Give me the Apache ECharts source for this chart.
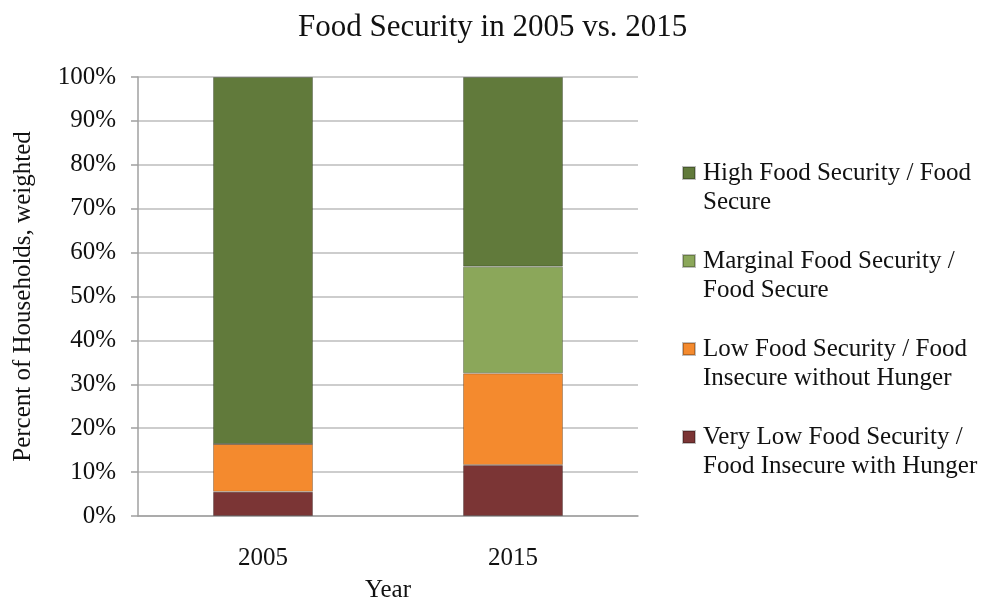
<!DOCTYPE html>
<html>
<head>
<meta charset="utf-8">
<script src="https://cdn.jsdelivr.net/npm/echarts@6/dist/echarts.min.js"></script>
<style>
html,body{margin:0;padding:0;background:#fff;overflow:hidden;}
#chart{width:988px;height:598px;}
</style>
</head>
<body>
<div id="chart"></div>
<script>
var years = ['2005', '2015'];
var seriesNames = [
  'Very Low Food Security /\nFood Insecure with Hunger',
  'Low Food Security / Food\nInsecure without Hunger',
  'Marginal Food Security /\nFood Secure',
  'High Food Security / Food\nSecure'
];
var veryLow = [5.5, 11.6];
var low = [10.9, 20.9];
var marginal = [0, 24.3];
var high = [83.6, 43.2];
var yTicks = [0, 10, 20, 30, 40, 50, 60, 70, 80, 90, 100];

var colors = ['#7b3535', '#f48a2e', '#8ba75a', '#617a3b'];
var values = [veryLow, low, marginal, high];
var font = '"Liberation Serif", "Times New Roman", serif';

var chart = echarts.init(document.getElementById('chart'));
var series = seriesNames.map(function (n, i) {
  return {
    name: n,
    type: 'bar',
    stack: 'total',
    barWidth: '40%',
    data: values[i],
    itemStyle: { color: colors[i], borderColor: 'rgba(0,0,0,0.25)', borderWidth: 1 }
  };
});

chart.setOption({
  animation: false,
  backgroundColor: '#fff',
  title: {
    text: 'Food Security in 2005 vs. 2015',
    left: 293, top: 7,
    textStyle: { fontFamily: font, fontSize: 31, fontWeight: 'normal', color: '#111' }
  },
  legend: {
    orient: 'vertical',
    left: 677, top: 153,
    itemWidth: 12, itemHeight: 58, itemGap: 28,
    icon: 'path://M0,0L0.01,0M0,58L0.01,58M0,8L12,8L12,20L0,20Z',
    data: seriesNames.slice().reverse(),
    textStyle: { fontFamily: font, fontSize: 25, color: '#111', lineHeight: 29, padding: [0, 0, 0, 3] }
  },
  grid: { left: 138, right: 350, top: 77, bottom: 82, outerBoundsMode: 'none', containLabel: false },
  xAxis: {
    type: 'category',
    data: years,
    name: 'Year', nameLocation: 'middle', nameGap: 62,
    nameTextStyle: { fontFamily: font, fontSize: 25, color: '#111' },
    axisLine: { lineStyle: { color: '#a0a0a0', width: 1.5 } },
    axisTick: { length: 7, lineStyle: { color: '#a0a0a0', width: 1.5 } },
    axisLabel: { fontFamily: font, fontSize: 25, color: '#111', margin: 30 }
  },
  yAxis: {
    type: 'value', min: 0, max: 100, interval: 10,
    name: 'Percent of Households, weighted', nameLocation: 'middle', nameGap: 102,
    nameTextStyle: { fontFamily: font, fontSize: 25, color: '#111' },
    axisLine: { show: true, lineStyle: { color: '#a0a0a0', width: 1.5 } },
    axisTick: { show: true, length: 7, lineStyle: { color: '#a0a0a0', width: 1.5 } },
    splitLine: { lineStyle: { color: '#bdbdbd', width: 1.5 } },
    axisLabel: {
      fontFamily: font, fontSize: 25, color: '#111', margin: 22,
      formatter: function (v) { return yTicks.indexOf(v) >= 0 ? v + '%' : ''; }
    }
  },
  series: series
});
</script>
</body>
</html>
